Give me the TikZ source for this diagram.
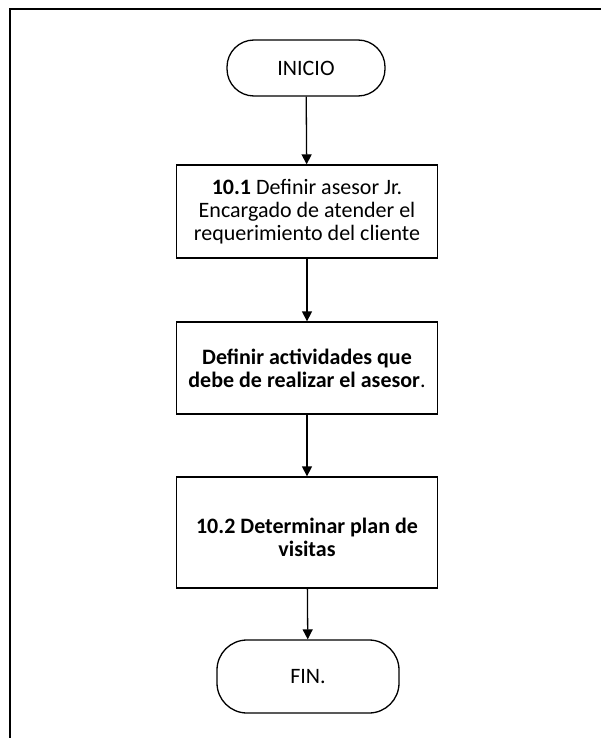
\documentclass[tikz,border=0pt]{standalone}
\usepackage{fontspec}
\setmainfont{Carlito}
\usetikzlibrary{arrows.meta}
\begin{document}
\begin{tikzpicture}[x=1pt,y=-1pt,
  txt/.style={font=\fontsize{22}{23}\selectfont, align=center, inner sep=0pt},
  box/.style={txt, draw, line width=1.3pt},
  term/.style={txt, draw, line width=1.3pt},
  conn/.style={-{Triangle[length=10pt,width=10pt]}, line width=1.3pt}]
\useasboundingbox (0,0) rectangle (600,738);
\draw[line width=2.5pt] (10,745) -- (10,9) -- (605,9);
\node[term, minimum width=158pt, minimum height=56pt, rounded corners=27pt] (inicio) at (306,68) {INICIO};
\node[box, minimum width=261pt, minimum height=93pt] (b1) at (307,211.5) {\textbf{10.1} Definir asesor Jr.\\Encargado de atender el\\requerimiento del cliente};
\node[box, minimum width=261pt, minimum height=92pt] (b2) at (307,368) {\textbf{Definir actividades que}\\\textbf{debe de realizar el asesor}.};
\node[box, minimum width=261pt, minimum height=111pt] (b3) at (307,532.5) {\raisebox{-8pt}[\height][\depth]{\begin{tabular}{@{}c@{}}\textbf{10.2 Determinar plan de}\\\textbf{visitas}\end{tabular}}};
\node[term, minimum width=182pt, minimum height=73pt, rounded corners=30pt] (fin) at (308,676.5) {FIN.};
\draw[conn] (inicio) -- (b1);
\draw[conn] (b1) -- (b2);
\draw[conn] (b2) -- (b3);
\draw[conn] (b3) -- (fin);
\end{tikzpicture}
\end{document}
